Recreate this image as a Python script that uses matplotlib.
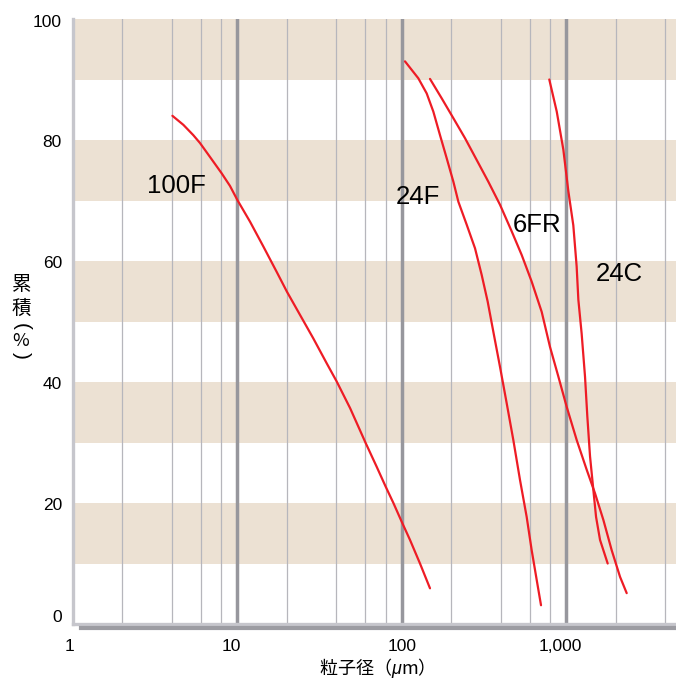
import matplotlib
matplotlib.use('Agg')
import matplotlib.pyplot as plt
from matplotlib.transforms import ScaledTranslation
from matplotlib.lines import Line2D

plt.rcParams['font.family'] = ['Liberation Sans', 'Noto Sans CJK JP', 'DejaVu Sans']
plt.rcParams['mathtext.fontset'] = 'custom'
plt.rcParams['mathtext.it'] = 'Liberation Sans:italic'
plt.rcParams['mathtext.rm'] = 'Liberation Sans'

# ---------------- data ----------------
x_100F = [4.03, 4.70, 5.40, 5.93, 6.82, 8.03, 9.03, 10.0, 11.95, 14.4, 17.36, 20.06, 24.06,
          29.0, 34.96, 40.2, 48.5, 60.4, 70.4, 79.9, 89.0, 100.0, 112.3, 129.2, 148.6]
y_100F = [84.0, 82.5, 80.8, 79.5, 77.2, 74.5, 72.4, 70.1, 66.5, 62.4, 58.2, 54.9, 51.1,
          47.2, 43.1, 40.1, 35.7, 29.9, 26.0, 22.7, 20.0, 16.9, 13.9, 10.0, 5.9]

x_24F = [104.7, 126.2, 141.9, 155.7, 171.0, 187.7, 206.2, 221.1, 248.5, 279.2, 306.5,
         333.3, 360.9, 396.2, 435.0, 477.5, 524.3, 575.6, 617.3, 662.2, 703.6]
y_24F = [93.0, 90.2, 87.7, 84.7, 80.8, 77.0, 73.1, 69.8, 66.0, 62.1, 57.7,
         53.3, 48.3, 42.5, 36.5, 30.4, 23.8, 17.7, 12.2, 7.3, 3.1]

x_6FR = [148.6, 175.0, 206.2, 242.7, 285.8, 336.5, 396.2, 466.7, 536.7, 617.3, 710.2,
         798, 897, 1008, 1160, 1334, 1499, 1685, 1893, 2128, 2336]
y_6FR = [90.1, 86.9, 83.6, 80.3, 76.7, 73.1, 69.3, 64.9, 61.0, 56.6, 51.6,
         45.8, 40.9, 35.9, 30.4, 25.5, 21.6, 17.2, 12.2, 7.8, 5.1]

x_24C = [790, 877, 962, 1031, 1106, 1159, 1187, 1243, 1303, 1346, 1398, 1464, 1521, 1608, 1790]
y_24C = [90.0, 84.7, 78.4, 71.6, 65.9, 59.1, 53.6, 48.0, 40.9, 34.3, 27.7, 22.2, 17.7, 13.9, 10.0]

series_names = ['100F', '24F', '6FR', '24C']
label_x = [2.81, 92.3, 473, 1520]
label_y = [71.2, 69.4, 64.8, 56.7]

x_ticks = [1, 10, 100, 1000]
x_tick_labels = ['1', '10', '100', '1,000']
y_ticks = [0, 20, 40, 60, 80, 100]
y_tick_labels = ['0', '20', '40', '60', '80', '100']

band_lows = [10, 30, 50, 70, 90]
band_height = 10
minor_grid = [2, 4, 6, 8, 20, 40, 60, 80, 200, 400, 600, 800, 2000, 4000]
major_grid = [10, 100, 1000]

x_label = '粒子径（$\\mu$m）'
y_label_main = '累\n積'
y_label_open, y_label_unit, y_label_close = '(', '%', ')'

# ---------------- style ----------------
W, H = 676, 681
RED = '#ee1c25'
BAND = '#ece1d3'
MINOR = '#b6b6bc'
MAJOR = '#97979d'
SPINE = '#c6c6cc'
SHADOW = '#9c9ca2'

fig = plt.figure(figsize=(W / 100, H / 100), dpi=100)
ax = fig.add_axes([72.9 / W, (H - 624) / H, (W - 72.9) / W, (624 - 19) / H])
ax.set_xscale('log')
ax.set_xlim(1, 4660)
ax.set_ylim(0, 100)

for lo in band_lows:
    ax.axhspan(lo, lo + band_height, color=BAND, lw=0, zorder=0)
for v in minor_grid:
    ax.axvline(v, color=MINOR, lw=0.9, zorder=1)
for v in major_grid:
    ax.axvline(v, color=MAJOR, lw=2.5, zorder=1)

for xs, ys in [(x_100F, y_100F), (x_24F, y_24F), (x_6FR, y_6FR), (x_24C, y_24C)]:
    ax.plot(xs, ys, color=RED, lw=1.6, zorder=3, solid_capstyle='round', solid_joinstyle='round')

for name, lx, ly in zip(series_names, label_x, label_y):
    ax.text(lx, ly, name, fontsize=18.5, ha='left', va='baseline', color='black', zorder=4)

# spines
for s in ['top', 'right']:
    ax.spines[s].set_visible(False)
for s in ['left', 'bottom']:
    ax.spines[s].set_color(SPINE)
    ax.spines[s].set_linewidth(2.4)
    ax.spines[s].set_zorder(5)

# shadow under bottom axis
fig.add_artist(Line2D([80.7 / W, 1.0], [1 - 628 / H, 1 - 628 / H], color=SHADOW, lw=3.0))

ax.set_xticks([])
ax.set_yticks([])
ax.minorticks_off()

# tick labels with small hand offsets (pixels)
x_off = [-3, -6, 0, -6]
for v, t, dx in zip(x_ticks, x_tick_labels, x_off):
    tr = ax.get_xaxis_transform() + ScaledTranslation(dx / 100, -27 / 100, fig.dpi_scale_trans)
    ax.text(v, 0, t, transform=tr, fontsize=12.5, ha='center', va='baseline', clip_on=False)

y_off = [-2, 7, 7, 7, 7, 8]
for v, t, dy in zip(y_ticks, y_tick_labels, y_off):
    tr = ax.get_yaxis_transform() + ScaledTranslation(-11 / 100, -dy / 100, fig.dpi_scale_trans)
    ax.text(0, v, t, transform=tr, fontsize=12.5, ha='right', va='baseline', clip_on=False)

# axis titles
fig.text(372 / W, 1 - 668 / H, x_label, fontsize=13, ha='center', va='center',
         family=['Noto Sans CJK JP'])

fig.text(21.7 / W, 1 - 296.5 / H, y_label_main, fontsize=14, ha='center', va='center',
         family=['Noto Sans CJK JP'], linespacing=1.15)
fig.text(21.5 / W, 1 - 327 / H, y_label_open, fontsize=15, ha='center', va='center',
         rotation=-90, family=['Liberation Sans'])
fig.text(21.0 / W, 1 - 341 / H, y_label_unit, fontsize=13, ha='center', va='center',
         family=['Noto Sans CJK JP'])
fig.text(21.5 / W, 1 - 355 / H, y_label_close, fontsize=15, ha='center', va='center',
         rotation=-90, family=['Liberation Sans'])

fig.savefig('out.png', dpi=100)
